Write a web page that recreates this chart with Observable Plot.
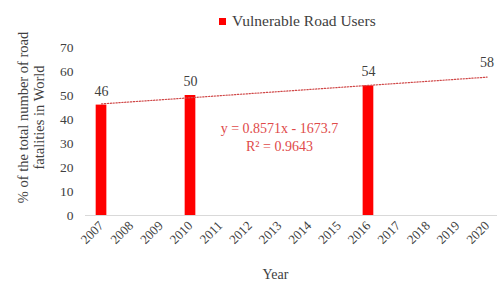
<!DOCTYPE html>
<html>
<head>
<meta charset="utf-8">
<script src="https://cdn.jsdelivr.net/npm/d3@7"></script>
<script src="https://cdn.jsdelivr.net/npm/@observablehq/plot@0.6"></script>
<style>
  html, body { margin: 0; padding: 0; background: #fff; }
  #wrap { position: relative; width: 497px; height: 281px; font-family: "Liberation Serif", "DejaVu Serif", serif; }
  #legend { position: absolute; left: 219px; top: 12px; font-size: 15.5px; color: #404040; display: flex; align-items: center; white-space: nowrap; }
  #legend .sw { width: 7px; height: 7px; background: #ff0000; margin-right: 6px; }
</style>
</head>
<body>
<div id="wrap"><div id="legend"><span class="sw"></span><span>Vulnerable Road Users</span></div></div>
<script>
const years = [2007, 2010, 2016];
const shares = [46, 50, 54];
const tickYears = [2007, 2008, 2009, 2010, 2011, 2012, 2013, 2014, 2015, 2016, 2017, 2018, 2019, 2020];
const labelYears = [2007, 2010, 2016, 2020];
const labelValues = [46, 50, 54, 58];
const trendSlope = 0.8571;
const trendIntercept = -1673.7;
const trendYears = [2007, 2020];
const equationText = "y = 0.8571x - 1673.7\nR² = 0.9643";
const yLabel = "% of the total number of road\nfatalities in World";
const xLabel = "Year";

const bars = years.map((y, i) => ({year: y, value: shares[i]}));
const labels = labelYears.map((y, i) => ({year: y, value: labelValues[i]}));
const trend = trendYears.map(y => ({year: y, value: trendSlope * y + trendIntercept}));

const halfBar = 0.18;
const serif = "Liberation Serif, DejaVu Serif, serif";

const chart = Plot.plot({
  width: 497,
  height: 281,
  marginLeft: 85,
  marginRight: 0,
  marginTop: 47,
  marginBottom: 66,
  style: {fontFamily: serif, fontSize: "13px", color: "#404040", background: "#fff"},
  x: {domain: [2006.46, 2020.35]},
  y: {domain: [0, 70]},
  marks: [
    Plot.axisY({ticks: d3.range(0, 71, 10), tickSize: 0, tickPadding: 12, label: null, fontSize: 13.5, fontFamily: serif}),
    Plot.axisX({ticks: tickYears, tickFormat: d => String(d), tickSize: 0, tickRotate: -45, tickPadding: 8, label: null, fontSize: 13, fontFamily: serif}),
    Plot.ruleY([0], {stroke: "#d9d9d9", strokeWidth: 1}),
    Plot.rectY(bars, {x1: d => d.year - halfBar, x2: d => d.year + halfBar, y1: 0, y2: "value", fill: "#ff0000"}),
    Plot.line(trend, {x: "year", y: "value", stroke: "#d04848", strokeWidth: 1.2, strokeDasharray: "1.3,1.6"}),
    Plot.text(labels, {x: "year", y: "value", text: d => String(d.value), dy: -14, fill: "#404040", fontSize: 14, fontFamily: serif}),
    Plot.text([equationText], {x: 2013.0, y: 33, text: d => d, fill: "#e04a4a", fontSize: 14, lineHeight: 1.29, fontFamily: serif}),
    Plot.text([yLabel], {frameAnchor: "left", textAnchor: "middle", text: d => d, rotate: -90, dx: -55, dy: -14, fill: "#404040", fontSize: 14.5, lineHeight: 1.12, fontFamily: serif}),
    Plot.text([xLabel], {frameAnchor: "bottom", text: d => d, dx: -16, dy: 63, fill: "#404040", fontSize: 14, fontFamily: serif})
  ]
});
document.getElementById("wrap").prepend(chart);
</script>
</body>
</html>
